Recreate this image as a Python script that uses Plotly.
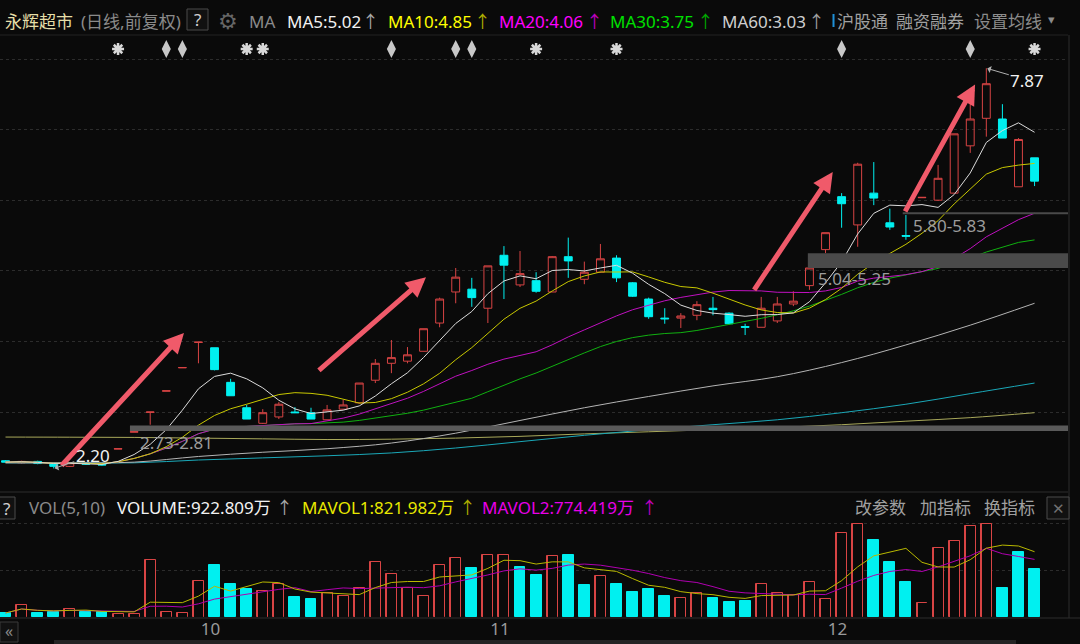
import plotly.graph_objects as go
import pandas as pd

W, H = 1080, 644
BG = '#0a0a0a'
RED = '#d84444'
CYAN = '#00f0f0'

# ---------------- data ----------------
day_index = list(range(65))   # 2024-09-10 ... 2024-12-18, one per trading day
opens = [2.31, 2.28, 2.30, 2.27, 2.23, 2.28, 2.26, 2.475, 2.715, 2.995,
         3.295, 3.625, 3.985, 3.91, 3.42, 3.06, 2.84, 2.93, 3.00, 2.99,
         2.89, 3.04, 3.13, 3.45, 3.69, 3.72, 3.86, 4.26, 4.70, 4.74,
         4.47, 5.22, 4.80, 4.86, 4.70, 5.20, 4.88, 4.98, 5.18, 4.83,
         4.60, 4.33, 4.33, 4.37, 4.47, 4.40, 4.21, 4.20, 4.29, 4.53,
         4.79, 5.30, 6.05, 5.65, 6.10, 5.68, 5.50, 6.035, 6.00, 6.10,
         6.77, 7.16, 7.15, 6.19, 6.60]
highs = [2.32, 2.31, 2.31, 2.28, 2.29, 2.29, 2.28, 2.48, 2.72, 3.00,
         3.30, 3.63, 3.99, 3.91, 3.47, 3.10, 3.04, 3.14, 3.07, 3.06,
         3.10, 3.17, 3.41, 3.75, 4.02, 3.92, 4.18, 4.62, 5.04, 4.90,
         5.07, 5.35, 5.28, 4.98, 5.21, 5.47, 5.13, 5.38, 5.22, 4.84,
         4.62, 4.47, 4.40, 4.57, 4.63, 4.41, 4.25, 4.63, 4.63, 4.71,
         5.04, 5.54, 6.10, 6.53, 6.54, 5.88, 5.79, 6.04, 6.50, 6.94,
         7.38, 7.87, 7.36, 6.88, 6.60]
lows = [2.28, 2.27, 2.26, 2.20, 2.22, 2.25, 2.24, 2.475, 2.715, 2.82,
        3.295, 3.625, 3.69, 3.59, 3.23, 2.90, 2.83, 2.90, 2.985, 2.90,
        2.89, 3.04, 3.12, 3.41, 3.55, 3.69, 3.86, 4.20, 4.54, 4.49,
        4.26, 4.60, 4.77, 4.69, 4.70, 4.90, 4.81, 4.97, 4.84, 4.63,
        4.32, 4.25, 4.19, 4.30, 4.37, 4.24, 4.09, 4.20, 4.26, 4.50,
        4.73, 5.25, 5.61, 5.34, 5.93, 5.58, 5.44, 6.035, 5.99, 6.10,
        6.67, 6.90, 6.88, 6.19, 6.20]
closes = [2.29, 2.30, 2.27, 2.23, 2.28, 2.26, 2.25, 2.48, 2.72, 3.00,
          3.30, 3.63, 3.99, 3.60, 3.23, 2.90, 2.99, 3.11, 2.99, 2.90,
          3.03, 3.10, 3.41, 3.69, 3.77, 3.81, 4.18, 4.60, 4.91, 4.62,
          5.07, 5.08, 4.96, 4.71, 5.20, 5.14, 4.98, 5.17, 4.90, 4.64,
          4.35, 4.32, 4.36, 4.52, 4.45, 4.25, 4.20, 4.47, 4.53, 4.57,
          5.04, 5.54, 5.95, 6.51, 6.03, 5.62, 5.49, 6.04, 6.31, 6.94,
          7.15, 7.65, 6.88, 6.86, 6.27]
volume_wan = [77, 232, 77, 87, 164, 106, 106, 66, 52, 1100,
              97, 69, 695, 1004, 637, 540, 502, 637, 386, 338,
              463, 405, 569, 1062, 830, 560, 405, 1004, 1139, 955,
              1189, 1189, 965, 811, 1168, 1189, 610, 789, 643, 477,
              544, 411, 371, 457, 371, 291, 305, 643, 457, 425,
              670, 338, 1621, 1787, 1486, 1056, 676, 270, 1341, 1475,
              1766, 1787, 569, 1255, 923]
month_tick_pos = [12.75, 30.75, 51.75]
month_tick_text = ['10', '11', '12']

# long moving averages at sparse days
long_ma_index = [0, 4, 8, 12, 16, 20, 24, 28, 32, 36, 40, 44, 48, 52, 56, 60, 64]
ma60_vals = [2.28, 2.28, 2.29, 2.37, 2.43, 2.48, 2.56, 2.70, 2.88, 3.06, 3.22, 3.37,
             3.50, 3.70, 3.95, 4.23, 4.54]
ma120_vals = [2.28, 2.28, 2.28, 2.32, 2.35, 2.38, 2.42, 2.49, 2.58, 2.67, 2.75, 2.82,
              2.89, 2.99, 3.11, 3.26, 3.41]
ma250_vals = [2.645, 2.643, 2.64, 2.63, 2.62, 2.61, 2.615, 2.63, 2.655, 2.69, 2.72,
              2.75, 2.78, 2.82, 2.87, 2.92, 2.99]

star_days = [7, 15, 16, 33, 38, 64]
updown_days = [10, 11, 24, 28, 29, 52, 60]

# user-drawn zones: (low, high, start day)
zones = [(2.73, 2.81, 7.74), (5.04, 5.25, 49.9), (5.80, 5.83, 55.8)]
zone_colors = ['#5a5a5a', '#4a4a4a', '#4a4a4a']
# trend arrows: (tail day, tail price, tip day, tip price)
trend_arrows = [(3.4, 2.22, 11.1, 4.12), (19.4, 3.57, 26.15, 4.91),
                (46.5, 4.71, 51.45, 6.40), (55.9, 5.82, 60.3, 7.64)]

# ---------------- geometry helpers ----------------
def px(x):
    return x / W

def py(y):
    return 1 - y / H

X_RANGE = [-0.342, 66.08]
Y_RANGE = [1.8952, 8.3399]
V_RANGE = [0, 2354.6]

def price_at(ypix):
    return 3 + (412 - ypix) / 70.6

# ---------------- derived series ----------------
cs = pd.Series(closes)
ma5 = cs.rolling(5, min_periods=1).mean()
ma10 = cs.rolling(10, min_periods=1).mean()
ma20 = cs.rolling(20, min_periods=1).mean()
ma30 = cs.rolling(30, min_periods=1).mean()
vs = pd.Series(volume_wan)
mavol5 = vs.rolling(5, min_periods=1).mean()
mavol10 = vs.rolling(10, min_periods=1).mean()

vol_up = []
for i, c in enumerate(closes):
    ref = closes[i - 1] if i > 0 else opens[0]
    vol_up.append(c >= ref)

fig = go.Figure()

fig.add_trace(go.Candlestick(
    x=day_index, open=opens, high=highs, low=lows, close=closes,
    increasing=dict(line=dict(color=RED, width=1), fillcolor='rgba(0,0,0,0)'),
    decreasing=dict(line=dict(color=CYAN, width=1), fillcolor=CYAN),
    whiskerwidth=0, hoverinfo='skip', xaxis='x', yaxis='y'))

for vals, col in [(ma250_vals, '#a8a85a'), (ma120_vals, '#1aa8b8'), (ma60_vals, '#b4b4b4')]:
    fig.add_trace(go.Scatter(x=long_ma_index, y=vals, mode='lines',
                             line=dict(color=col, width=1, shape='spline'),
                             hoverinfo='skip', xaxis='x', yaxis='y'))

for ser, col in [(ma30, '#10b010'), (ma20, '#c010c0'), (ma10, '#c8c800'), (ma5, '#dcdcdc')]:
    fig.add_trace(go.Scatter(x=day_index, y=ser, mode='lines',
                             line=dict(color=col, width=1),
                             hoverinfo='skip', xaxis='x', yaxis='y'))

row_price = price_at(49)
fig.add_trace(go.Scatter(x=star_days, y=[row_price] * len(star_days), mode='markers',
                         marker=dict(symbol='asterisk-open', size=10, color='#d8d8d8',
                                     line=dict(color='#d8d8d8', width=2.5)),
                         hoverinfo='skip', xaxis='x', yaxis='y'))
fig.add_trace(go.Scatter(x=updown_days, y=[row_price] * len(updown_days), mode='markers',
                         marker=dict(symbol='diamond-tall', size=13, color='#c8c8c8'),
                         hoverinfo='skip', xaxis='x', yaxis='y'))

fig.add_trace(go.Bar(
    x=day_index, y=volume_wan, width=0.68,
    marker=dict(color=[RED if u else CYAN for u in vol_up],
                line=dict(color=[RED if u else CYAN for u in vol_up], width=1)),
    hoverinfo='skip', xaxis='x', yaxis='y2'))
# hollow up bars: overlay fill with background
fig.add_trace(go.Bar(
    x=[d for d, u in zip(day_index, vol_up) if u],
    y=[v for v, u in zip(volume_wan, vol_up) if u], width=0.68 - 0.12,
    marker=dict(color=BG, line=dict(width=0)),
    hoverinfo='skip', xaxis='x', yaxis='y2'))

fig.add_trace(go.Scatter(x=day_index, y=mavol10, mode='lines', line=dict(color='#b000b0', width=1),
                         hoverinfo='skip', xaxis='x', yaxis='y2'))
fig.add_trace(go.Scatter(x=day_index, y=mavol5, mode='lines', line=dict(color='#b8b800', width=1),
                         hoverinfo='skip', xaxis='x', yaxis='y2'))

shapes = []
annotations = []

# zones
for (lo, hi, start), zc in zip(zones, zone_colors):
    shapes.append(dict(type='rect', xref='x', yref='y', x0=start, x1=X_RANGE[1], y0=lo, y1=hi,
                       fillcolor=zc, line=dict(width=0), layer='above'))
    annotations.append(dict(x=start, y=lo, xref='x', yref='y', text=f'{lo:.2f}-{hi:.2f}',
                            showarrow=False, xanchor='left', yanchor='middle', xshift=8, yshift=-11,
                            font=dict(color='#9c9c9c', size=17)))

for tx, ty, hx, hy in trend_arrows:
    annotations.append(dict(x=hx, y=hy, ax=tx, ay=ty, xref='x', yref='y', axref='x', ayref='y',
                            text='', showarrow=True, arrowhead=2, arrowsize=0.8, arrowwidth=5,
                            arrowcolor='#f05a6a', standoff=0))

hi_i = max(range(len(highs)), key=lambda i: highs[i])
lo_i = min(range(len(lows)), key=lambda i: lows[i])
annotations.append(dict(x=hi_i, y=highs[hi_i], xref='x', yref='y', text=f'{highs[hi_i]:.2f}',
                        showarrow=True, ax=41, ay=12, arrowhead=1, arrowsize=1.2, arrowwidth=1,
                        arrowcolor='#b0b0b0', standoff=1, font=dict(color='#f2f2f2', size=17)))
annotations.append(dict(x=lo_i, y=lows[lo_i], xref='x', yref='y', text=f'{lows[lo_i]:.2f}',
                        showarrow=True, ax=39, ay=-13, arrowhead=1, arrowsize=1.2, arrowwidth=1,
                        arrowcolor='#b0b0b0', standoff=1, font=dict(color='#f2f2f2', size=17)))

# frame lines
def hline(y, x0, x1, color, width=1):
    shapes.append(dict(type='line', xref='paper', yref='paper', x0=px(x0), x1=px(x1),
                       y0=py(y), y1=py(y), line=dict(color=color, width=width)))

def vline(x, y0, y1, color, width=1):
    shapes.append(dict(type='line', xref='paper', yref='paper', x0=px(x), x1=px(x),
                       y0=py(y0), y1=py(y1), line=dict(color=color, width=width)))

def box(x0, y0, x1, y1, line, fill):
    shapes.append(dict(type='rect', xref='paper', yref='paper', x0=px(x0), x1=px(x1),
                       y0=py(y1), y1=py(y0), line=dict(color=line, width=1), fillcolor=fill))

hline(35, 0, 1068, '#222222')
hline(492, 0, 1068, '#2c2c2c')
hline(618, 0, 1080, '#2c2c2c')
vline(1069, 35, 618, '#2c2c2c')
box(187, 9, 208, 30, '#4a4a4a', '#111111')
box(-3, 497, 15, 519, '#4a4a4a', '#111111')
box(1047, 497, 1069, 519, '#4a4a4a', '#111111')
box(0, 622, 18, 642, '#3a3a3a', '#111111')
shapes.append(dict(type='rect', xref='paper', yref='paper', x0=px(54), x1=px(1016),
                   y0=0, y1=py(640), line=dict(width=0), fillcolor='#242424'))
vline(833.5, 14, 27, '#1e90d8', 2)

FONT = 'Noto Sans, Noto Sans CJK SC, sans-serif'

def text(x, y, s, color, size=17, anchor='left'):
    annotations.append(dict(x=px(x), y=py(y), xref='paper', yref='paper', text=s, showarrow=False,
                            xanchor=anchor, yanchor='middle', font=dict(color=color, size=size)))

main_header = [
    (3, '永辉超市', '#e6dfa8'), (79, '(日线,前复权)', '#8a8a8a'), (247, 'MA', '#8a8a8a'),
    (285, 'MA5:5.02', '#f2f2f2'), (386, 'MA10:4.85', '#ffff00'), (497, 'MA20:4.06', '#ff00ff'),
    (608, 'MA30:3.75', '#00e000'), (720, 'MA60:3.03', '#cfcfcf'),
    (835, '沪股通', '#a0a0a0'), (894, '融资融券', '#a0a0a0'), (972, '设置均线', '#8c8c8c'),
]
for x, s, c in main_header:
    text(x, 21, s, c)
for x, c in [(370, '#a8a8a8'), (482, '#b0b000'), (594, '#c000c0'), (705, '#00a800'), (816, '#a0a0a0')]:
    text(x, 21, '↑', c, anchor='center')
text(197.5, 20, '?', '#d0d0d0', anchor='center')
text(228, 20, '⚙', '#666666', size=22, anchor='center')
text(1051, 19, '▾', '#8c8c8c', size=13, anchor='center')

vol_header = [
    (27, 'VOL(5,10)', '#8a8a8a'), (115, 'VOLUME:922.809万', '#f2f2f2'),
    (300, 'MAVOL1:821.982万', '#e8e800'), (480, 'MAVOL2:774.419万', '#e800e8'),
    (853, '改参数', '#a0a0a0'), (918, '加指标', '#a0a0a0'), (982, '换指标', '#a0a0a0'),
]
for x, s, c in vol_header:
    text(x, 507, s, c)
for x, c in [(284, '#a8a8a8'), (467, '#b0b000'), (649, '#c000c0')]:
    text(x, 507, '↑', c, anchor='center')
text(6, 508, '?', '#d0d0d0', anchor='center')
text(1058, 508, '✕', '#707070', size=15, anchor='center')
text(9, 631, '«', '#8a8a8a', size=16, anchor='center')

fig.update_layout(
    width=W, height=H, margin=dict(l=0, r=0, t=0, b=0),
    paper_bgcolor=BG, plot_bgcolor=BG, showlegend=False,
    font=dict(family=FONT, color='#a0a0a0', size=17),
    bargap=0, barmode='overlay',
    xaxis=dict(domain=[0, 1068 / W], range=X_RANGE, anchor='y2', showgrid=False, zeroline=False,
               tickmode='array', tickvals=month_tick_pos, ticktext=month_tick_text,
               tickfont=dict(color='#9a9a9a', size=17), ticks='', showline=False,
               rangeslider=dict(visible=False), fixedrange=True),
    yaxis=dict(domain=[py(490), py(35)], range=Y_RANGE, anchor='x', tickvals=[3, 4, 5, 6, 7, 8],
               showticklabels=False, gridcolor='#2c2c2c', griddash='dot', gridwidth=1,
               zeroline=False, showline=False, fixedrange=True),
    yaxis2=dict(domain=[py(617), py(495)], range=V_RANGE, anchor='x', tickvals=[907, 1814],
                showticklabels=False, gridcolor='#2c2c2c', griddash='dot', gridwidth=1,
                zeroline=False, showline=False, fixedrange=True),
    shapes=shapes, annotations=annotations,
)

fig.write_html('out.html', config={'displayModeBar': False},
               post_script="document.body.style.margin='0px';document.body.style.background='#0a0a0a';")
